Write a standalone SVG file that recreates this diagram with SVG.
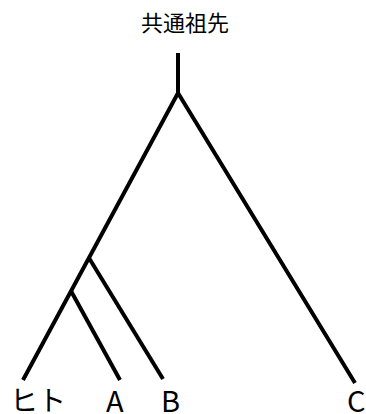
<svg xmlns="http://www.w3.org/2000/svg" width="366" height="414" viewBox="0 0 366 414">
<style>
.e{stroke:#000;stroke-width:4;fill:none;stroke-linecap:butt}
.t{font-family:"Noto Sans CJK JP","Noto Sans",sans-serif;fill:#000}
.l{font-size:29px}
</style>
<rect width="366" height="414" fill="#fff"/>
<g id="root"><text class="t" x="185" y="31" font-size="22" text-anchor="middle">共通祖先</text></g>
<g id="human"><text class="t" x="10" y="411" font-size="28">ヒト</text></g>
<g id="a"><text class="t l" x="106" y="412">A</text></g>
<g id="b"><text class="t l" x="161" y="412">B</text></g>
<g id="c"><text class="t l" x="347" y="412">C</text></g>
<g id="connectors">
<line class="e" x1="178" y1="53" x2="178" y2="94"/>
<polyline class="e" points="23,380 178,93 355,383"/>
<line class="e" x1="89" y1="258" x2="163" y2="379"/>
<line class="e" x1="71" y1="291" x2="120" y2="380"/>
</g>
</svg>
